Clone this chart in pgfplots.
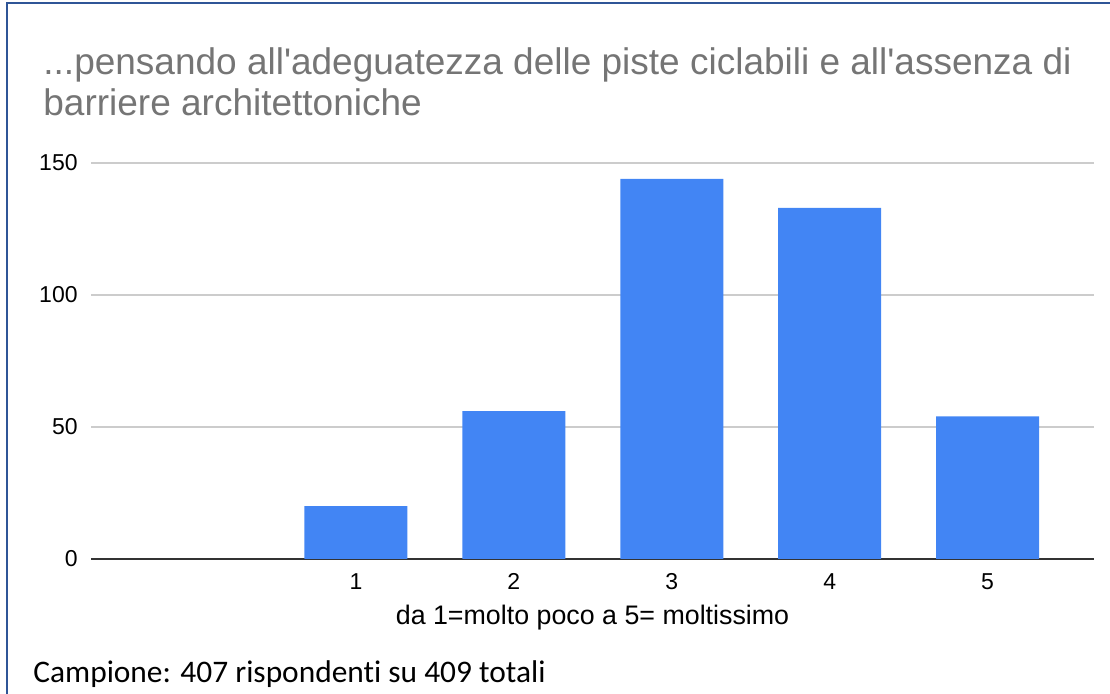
\documentclass[border=0pt]{standalone}
\usepackage{fontspec}
\setmainfont{Liberation Sans}
\newfontfamily\calibri[Ligatures=NoCommon]{Carlito}
\usepackage{pgfplots}
\pgfplotsset{compat=1.18}
\definecolor{barblue}{HTML}{4285F4}
\definecolor{titlegray}{HTML}{757575}
\definecolor{gridgray}{HTML}{CCCCCC}
\definecolor{axisdark}{HTML}{333333}
\definecolor{frameblue}{HTML}{2F5597}
\begin{document}
\begin{tikzpicture}
% page frame, 1 px = 0.5pt
\useasboundingbox (0,0) rectangle (555pt,347pt);
\draw[frameblue, line width=1.2pt] (3.5pt,0) -- (3.5pt,345.6pt) -- (555pt,345.6pt);

\node[anchor=base west, inner sep=0pt, text=titlegray, font=\fontsize{18.5}{21}\selectfont]
  at (21.5pt,309.5pt) {...pensando all\textquotesingle adeguatezza delle piste ciclabili e all\textquotesingle assenza di};
\node[anchor=base west, inner sep=0pt, text=titlegray, font=\fontsize{18.5}{21}\selectfont]
  at (21.5pt,289pt) {barriere architettoniche};

\begin{axis}[
    at={(45.5pt,67.5pt)}, anchor=south west,
    scale only axis,
    width=501.5pt, height=198pt,
    xmin=-0.678, xmax=5.674,
    ymin=0, ymax=150,
    ytick={0,50,100,150},
    xtick={1,2,3,4,5},
    axis x line=bottom, axis y line=left,
    x axis line style={axisdark, line width=0.7pt, -},
    y axis line style={draw=none},
    ymajorgrids=true,
    grid style={gridgray, line width=0.6pt},
    major tick length=0pt,
    tick style={draw=none},
    /pgf/number format/assume math mode=true,
    ticklabel style={font=\fontsize{11.5}{13}\selectfont, text=black},
    yticklabel style={anchor=east, inner sep=0pt, xshift=-6.5pt},
    xticklabel style={anchor=base, inner sep=0pt, yshift=-15.5pt},
    xlabel={da 1=molto poco a 5= moltissimo},
    xlabel style={at={(axis description cs:0.5,0)}, anchor=base, inner sep=0pt,
      yshift=-33pt, font=\fontsize{13.4}{15}\selectfont},
    clip=false,
]
\addplot[ybar, bar width=0.652, fill=barblue, draw=none] coordinates {
    (1,20) (2,56) (3,144) (4,133) (5,54)
};
\end{axis}

\node[anchor=base west, inner sep=0pt, font=\calibri\fontsize{15.7}{18}\selectfont]
  at (16.5pt,5.5pt) {Campione: 407 rispondenti su 409 totali};
\end{tikzpicture}
\end{document}
